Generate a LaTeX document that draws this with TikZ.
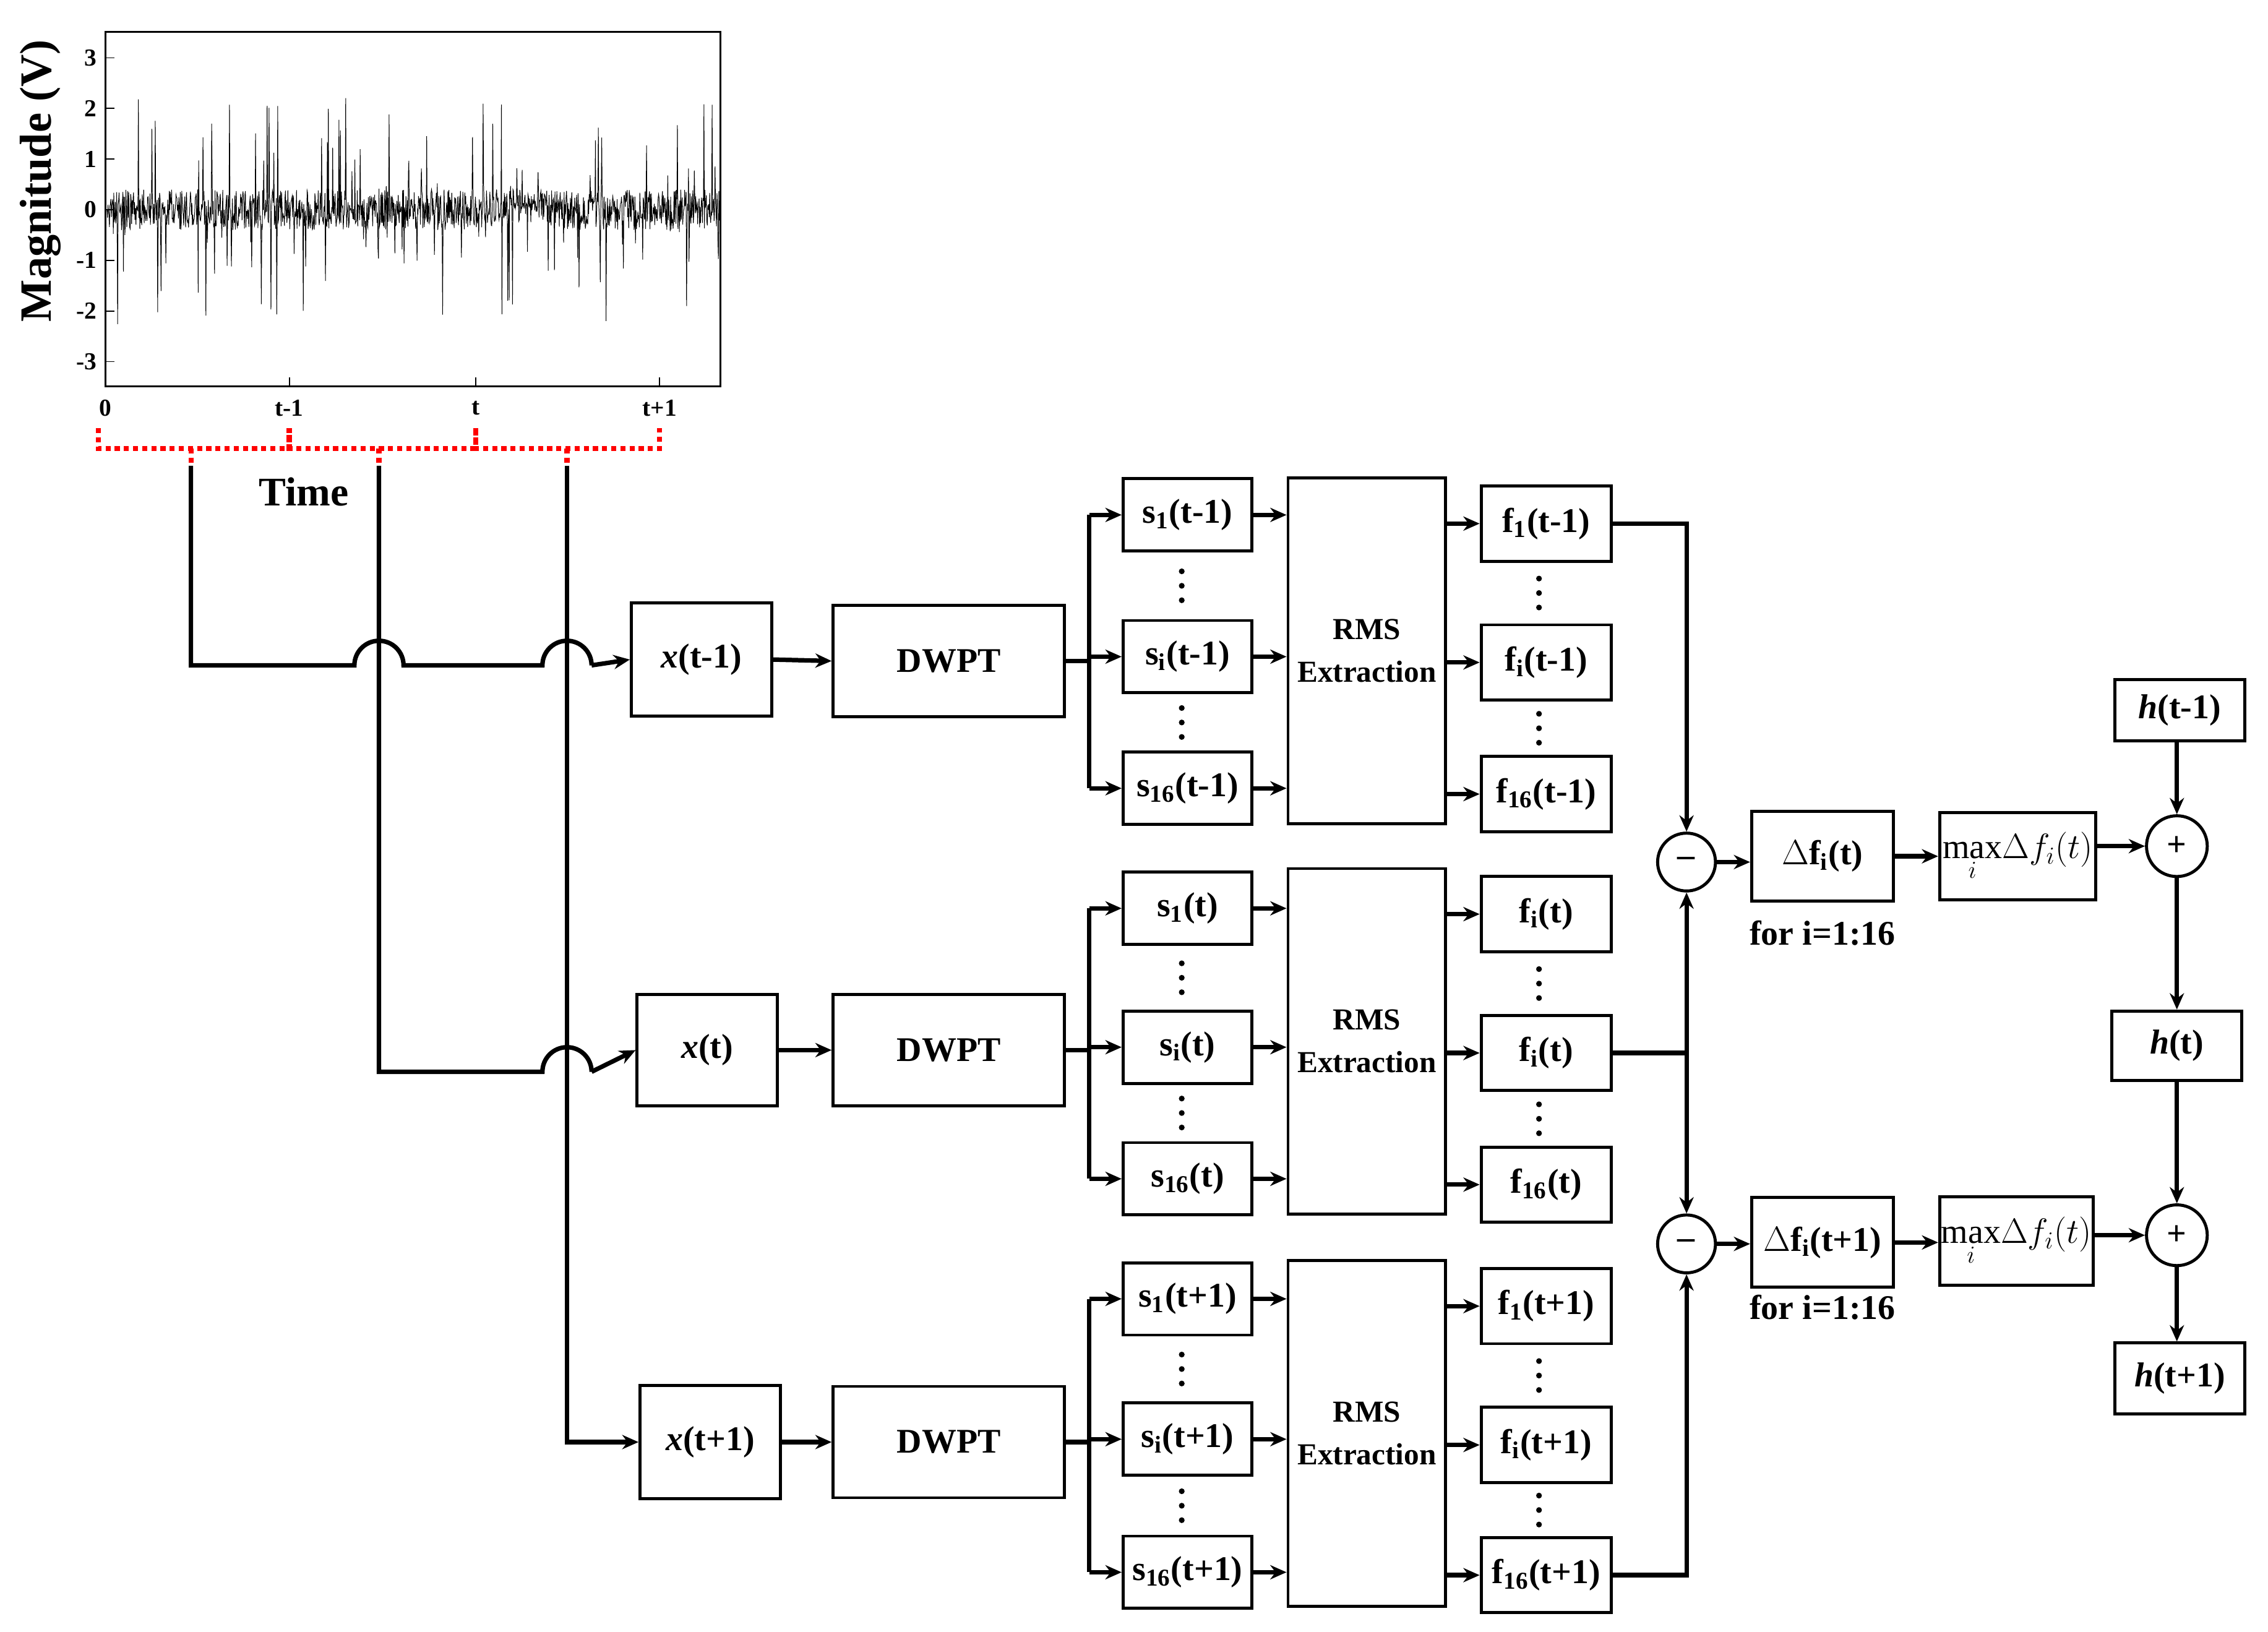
\documentclass[tikz,border=0pt]{standalone}
\usepackage{fontspec}
\setmainfont{Liberation Serif}
\usetikzlibrary{arrows.meta,calc}
\begin{document}
\begin{tikzpicture}[x=0.025cm,y=-0.025cm,
  font=\bfseries\fontsize{17}{19}\selectfont,
  bx/.style={draw,line width=1.5pt,minimum width=#1*0.025cm,inner sep=0pt},
  ln/.style={line width=2.2pt},
  ar/.style={line width=2.2pt,-{Stealth[length=8pt,width=7pt]}},
  cir/.style={draw,circle,line width=1.5pt,minimum size=40*0.025cm,inner sep=0pt}]
\useasboundingbox (0,0) rectangle (1568,1128);
% plot
\draw[line width=0.8pt] (73,22) rectangle (498,267);
\pgfmathsetseed{11}
\draw[line width=0.3pt] (74,145) \foreach \i in {1,...,1270}{ -- ({74+\i/3},{145-(rnd>0.9 ? 80*rand : 14*rand)}) };
\foreach \v/\yy in {3/40,2/75,1/110,0/145,-1/180,-2/215,-3/250}{
  \draw[line width=0.6pt] (73,\yy)--(79,\yy);
  \node[anchor=east,font=\bfseries\fontsize{12}{12}\selectfont] (yl\yy) at (72,\yy) {\v};}
\foreach \l/\xx in {0/73,t-1/200,t/329,t+1/456}{
  \draw[line width=0.6pt] (\xx,267)--(\xx,261);
  \node[font=\bfseries\fontsize{12}{12}\selectfont] (xl\xx) at (\xx,282) {\l};}
\node[rotate=90,font=\bfseries\fontsize{22}{22}\selectfont] (mag) at (28,125) {Magnitude (V)};
\node[font=\bfseries\fontsize{20}{20}\selectfont] (time) at (210,340) {Time};
\foreach \a/\m/\b in {68/132/200,200/262/329,329/392/456}{
  \draw[red,dotted,line width=2.5pt] (\a,296)--(\a,310)--(\b,310)--(\b,296);
  \draw[red,dotted,line width=2.5pt] (\m,310)--(\m,322);}
% input boxes
\node[bx=97,minimum height=78*0.025cm] (x1) at (485,456) {\textit{x}(t-1)};
\node[bx=97,minimum height=77*0.025cm] (x2) at (489,726) {\textit{x}(t)};
\node[bx=97,minimum height=78*0.025cm] (x3) at (491,997) {\textit{x}(t+1)};
\foreach \n/\yy in {1/457,2/726,3/997}{
  \node[bx=160,minimum height=77*0.025cm] (d\n) at (656,\yy) {DWPT};}
% black feed lines with hops
\coordinate (c1) at (132,322); \coordinate (c2) at (262,322); \coordinate (c3) at (392,322);
\draw[ln] (c1)--(132,460)--(245,460) arc[start angle=180,end angle=360,radius=17] -- (375,460) arc[start angle=180,end angle=360,radius=17];
\draw[ar] (409,460)--(x1.west);
\draw[ln] (c2)--(262,741)--(375,741) arc[start angle=180,end angle=360,radius=17];
\draw[ar] (409,741)--(x2.west);
\draw[ar] (c3)--(392,997)--(x3.west);
\foreach \n in {1,2,3}{\draw[ar] (x\n.east)--(d\n.west);}
% s, RMS, f groups
\foreach \g/\ya/\yb/\yc/\fa/\fb/\fc/\ry/\suf/\fst in {
  1/356/454/545/362/458/549/450/t-1/1,
  2/628/724/815/632/728/819/720/t/i,
  3/898/995/1087/903/999/1089/991/t+1/1}{
  \node[bx=89,minimum height=50*0.025cm] (sa\g) at (821,\ya) {s$_{\mathbf 1}$(\suf)};
  \node[bx=89,minimum height=50*0.025cm] (sb\g) at (821,\yb) {s$_{\mathbf i}$(\suf)};
  \node[bx=89,minimum height=50*0.025cm] (sc\g) at (821,\yc) {s$_{\mathbf{16}}$(\suf)};
  \node[bx=109,minimum height=239*0.025cm,align=center,font=\bfseries\fontsize{15}{17}\selectfont] (r\g) at (945,\ry) {RMS\\[4pt]Extraction};
  \node[bx=90,minimum height=52*0.025cm] (fa\g) at (1069,\fa) {f$_{\mathbf\fst}$(\suf)};
  \node[bx=90,minimum height=52*0.025cm] (fb\g) at (1069,\fb) {f$_{\mathbf i}$(\suf)};
  \node[bx=90,minimum height=52*0.025cm] (fc\g) at (1069,\fc) {f$_{\mathbf{16}}$(\suf)};
  \draw[ln] (d\g.east)--(753,\yb|-d\g.east);
  \draw[ln] (753,\ya)--(753,\yc);
  \draw[ar] (753,\ya)--(sa\g.west);
  \draw[ar] (753,\yb)--(sb\g.west);
  \draw[ar] (753,\yc)--(sc\g.west);
  \foreach \s in {a,b,c}{\draw[ar] (s\s\g.east)--(s\s\g.east-|r\g.west);
                        \draw[ar] (f\s\g.west-|r\g.east)--(f\s\g.west);}
  \foreach \u/\v in {sa/sb,sb/sc}{\path (\u\g.south)--(\v\g.north) coordinate[midway] (dt\u\v\g);
     \foreach \k in {-10,0,10}{\fill ($(dt\u\v\g)+(-4,\k)$) circle[radius=2];}}
  \foreach \u/\v in {fa/fb,fb/fc}{\path (\u\g.south)--(\v\g.north) coordinate[midway] (dt\u\v\g);
     \foreach \k in {-10,0,10}{\fill ($(dt\u\v\g)+(-5,\k)$) circle[radius=2];}}
}
% difference
\node[cir] (m1) at (1166,596) {\textbf{--}};
\node[cir] (m2) at (1166,860) {\textbf{--}};
\draw[ar] (fa1.east)--(1166,362)--(m1.north);
\draw[ln] (fb2.east)--(1166,728);
\draw[ar] (1166,728)--(m1.south);
\draw[ar] (1166,728)--(m2.north);
\draw[ar] (fc3.east)--(1166,1089)--(m2.south);
\node[bx=98,minimum height=62*0.025cm] (df1) at (1260,592) {$\Delta$f$_{\mathbf i}$(t)};
\node[bx=98,minimum height=62*0.025cm] (df2) at (1260,859) {$\Delta$f$_{\mathbf i}$(t+1)};
\node (fr1) at (1260,645) {for i=1:16};
\node (fr2) at (1260,904) {for i=1:16};
\draw[ar] (m1.east)--(m1.east-|df1.west);
\draw[ar] (m2.east)--(m2.east-|df2.west);
\node[bx=108,minimum height=60*0.025cm,font=\mdseries\fontsize{17}{19}\selectfont] (mx1) at (1395,592) {$\max\limits_{i}\!\Delta f_i\!\left(t\right)$};
\node[bx=106,minimum height=61*0.025cm,font=\mdseries\fontsize{17}{19}\selectfont] (mx2) at (1394,858) {$\max\limits_{i}\!\Delta f_i\!\left(t\right)$};
\draw[ar] (df1.east)--(df1.east-|mx1.west);
\draw[ar] (df2.east)--(df2.east-|mx2.west);
\node[cir,minimum size=42*0.025cm] (p1) at (1505,585) {+};
\node[cir,minimum size=42*0.025cm] (p2) at (1505,854) {+};
\draw[ar] (mx1.east|-p1)--(p1.west);
\draw[ar] (mx2.east|-p2)--(p2.west);
\node[bx=90,minimum height=42*0.025cm] (h1) at (1507,491) {\textit{h}(t-1)};
\node[bx=90,minimum height=48*0.025cm] (h2) at (1505,723) {\textit{h}(t)};
\node[bx=90,minimum height=49*0.025cm] (h3) at (1507,953) {\textit{h}(t+1)};
\draw[ar] (h1.south-|p1)--(p1.north);
\draw[ar] (p1.south)--(h2.north);
\draw[ar] (h2.south)--(p2.north);
\draw[ar] (p2.south)--(h3.north-|p2);
\end{tikzpicture}
\end{document}
